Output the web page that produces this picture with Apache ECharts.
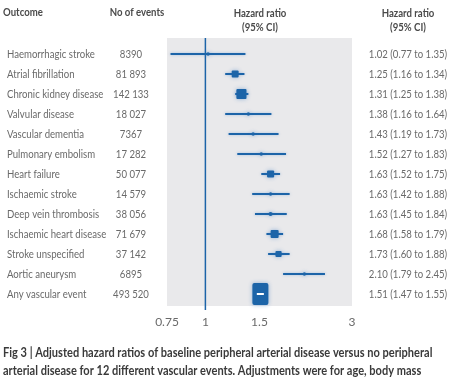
<!DOCTYPE html>
<html><head><meta charset="utf-8">
<script src="https://cdn.jsdelivr.net/npm/echarts@6/dist/echarts.min.js"></script>
<style>html,body{margin:0;padding:0;background:#fff}#c{width:453px;height:378px}</style>
</head><body><div id="c"></div>
<script>
var outcomes = ['Haemorrhagic stroke','Atrial fibrillation','Chronic kidney disease','Valvular disease','Vascular dementia','Pulmonary embolism','Heart failure','Ischaemic stroke','Deep vein thrombosis','Ischaemic heart disease','Stroke unspecified','Aortic aneurysm','Any vascular event'];
var events = [8390, 81893, 142133, 18027, 7367, 17282, 50077, 14579, 38056, 71679, 37142, 6895, 493520];
var hr = [1.02, 1.25, 1.31, 1.38, 1.43, 1.52, 1.63, 1.63, 1.63, 1.68, 1.73, 2.10, 1.51];
var lo = [0.77, 1.16, 1.25, 1.16, 1.19, 1.27, 1.52, 1.42, 1.45, 1.58, 1.60, 1.79, 1.47];
var hi = [1.35, 1.34, 1.38, 1.64, 1.73, 1.83, 1.75, 1.88, 1.84, 1.79, 1.88, 2.45, 1.55];
var tickValues = [0.75, 1, 1.5, 3];
var refValue = 1;

var FONT = "Lato, 'Liberation Sans', sans-serif";
var BLUE = '#1c64a8';
var TXT = '#6a6a6a';
var SX = 0.8;

function fmtEvents(n){
  var s = String(n);
  if (n < 10000) return s;
  return s.replace(/\B(?=(\d{3})+(?!\d))/g, ' ');
}
function fmtHR(i){
  return hr[i].toFixed(2) + ' (' + lo[i].toFixed(2) + ' to ' + hi[i].toFixed(2) + ')';
}

var rows = outcomes.map(function(o, i){ return [hr[i], i, lo[i], hi[i]]; });
var last = outcomes.length - 1;

var chart = echarts.init(document.getElementById('c'), null, {renderer:'canvas'});
var HF = 'bold 12px ' + FONT;
chart.setOption({
  animation: false,
  grid: {left: 167, right: 101, top: 38, bottom: 72, show: true, backgroundColor: '#e9e9eb', borderWidth: 0},
  xAxis: {
    type: 'log', min: 0.75, max: 3, logBase: 10,
    axisLine: {show: false}, axisTick: {show: false}, splitLine: {show: false},
    axisLabel: {customValues: tickValues, color: TXT, fontFamily: FONT, fontSize: 12, margin: 10,
      formatter: function(v){ return String(+v.toFixed(2)); }}
  },
  yAxis: {type: 'value', min: -0.8, max: 12.6, inverse: true, show: false},
  graphic: [
    {type:'text', x: 3, y: 6, scaleX: SX, style:{text:'Outcome', fill:'#4a4a4a', font:HF}},
    {type:'text', x: 137, y: 6, scaleX: SX, style:{text:'No of events', fill:'#4a4a4a', font:HF, textAlign:'center'}},
    {type:'text', x: 260, y: 6, scaleX: SX, style:{text:'Hazard ratio\n(95% CI)', fill:'#4a4a4a', font:HF, textAlign:'center', lineHeight: 14}},
    {type:'text', x: 408, y: 6, scaleX: SX, style:{text:'Hazard ratio\n(95% CI)', fill:'#4a4a4a', font:HF, textAlign:'center', lineHeight: 14}},
    {type:'text', x: 3, y: 344, scaleX: 0.85, style:{text:'Fig 3 | Adjusted hazard ratios of baseline peripheral arterial disease versus no peripheral\narterial disease for 12 different vascular events. Adjustments were for age, body mass', fill:'#3a3a3a', font:'bold 13px ' + FONT, lineHeight: 18}}
  ],
  series: [
    {
      type: 'custom', clip: false, silent: true,
      data: [[refValue, -0.8, 12.8]],
      renderItem: function(params, api){
        var a = api.coord([api.value(0), api.value(1)]);
        var b = api.coord([api.value(0), api.value(2)]);
        return {type:'line', shape:{x1:a[0], y1:a[1], x2:b[0], y2:b[1]}, style:{stroke: BLUE, lineWidth: 1.5}};
      }
    },
    {
      type: 'custom', clip: false, silent: true,
      data: rows,
      renderItem: function(params, api){
        var i = api.value(1);
        var c = api.coord([api.value(0), i]);
        var l = api.coord([api.value(2), i]);
        var h = api.coord([api.value(3), i]);
        var children = [];
        var shadow = {shadowBlur: 4, shadowColor: 'rgba(40,110,190,0.45)'};
        if (i === last) {
          children.push({type:'rect', shape:{x:c[0]-8, y:c[1]-11, width:16, height:22, r:2}, style:Object.assign({fill: BLUE}, shadow)});
          children.push({type:'line', shape:{x1:l[0], y1:c[1], x2:h[0], y2:c[1]}, style:{stroke:'#ffffff', lineWidth: 2}});
        } else {
          var w = Math.log(api.value(3)) - Math.log(api.value(2));
          var s = Math.max(3.5, 1.0 / w);
          children.push({type:'line', shape:{x1:l[0], y1:c[1], x2:h[0], y2:c[1]}, style:{stroke: BLUE, lineWidth: 2, shadowBlur: 3, shadowColor: 'rgba(40,110,190,0.35)'}});
          children.push({type:'rect', shape:{x:c[0]-s/2, y:c[1]-s/2, width:s, height:s, r: s > 5 ? 1 : s/2}, style:Object.assign({fill: BLUE}, shadow)});
        }
        return {type:'group', children: children};
      }
    },
    {
      type: 'custom', clip: false, silent: true,
      data: rows,
      renderItem: function(params, api){
        var i = api.value(1);
        var y = api.coord([1, i])[1];
        var f = '12px ' + FONT;
        return {type:'group', children:[
          {type:'text', x: 7, y: y, scaleX: SX, style:{text: outcomes[i], fill: TXT, font: f, textVerticalAlign:'middle'}},
          {type:'text', x: 131, y: y, scaleX: SX, style:{text: fmtEvents(events[i]), fill: TXT, font: f, textAlign:'center', textVerticalAlign:'middle'}},
          {type:'text', x: 408, y: y, scaleX: SX, style:{text: fmtHR(i), fill: TXT, font: f, textAlign:'center', textVerticalAlign:'middle'}}
        ]};
      }
    }
  ]
});
</script></body></html>
